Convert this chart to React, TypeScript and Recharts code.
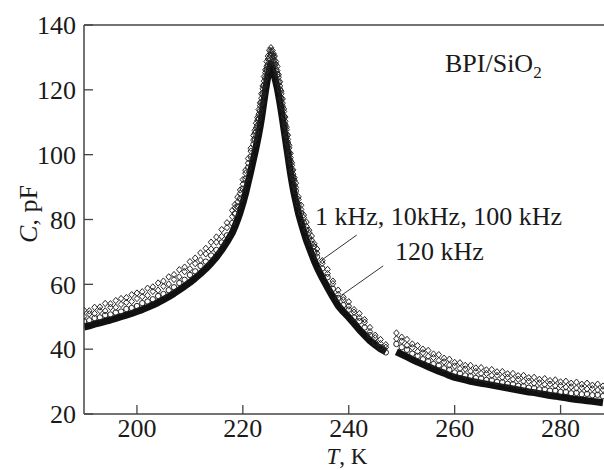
import { ComposedChart, Line, Scatter, XAxis, YAxis, ReferenceLine } from 'recharts'

// temperature, K (248 K is the gap in the measurement)
const T = [
  190, 191, 192, 193, 194, 195, 196, 197, 198, 199, 200, 201, 202, 203, 204, 205, 206, 207, 208, 209,
  210, 211, 212, 213, 214, 215, 216, 217, 218,
  218.5, 219, 219.5, 220, 220.5, 221, 221.5,
  222, 222.25, 222.5, 222.75, 223, 223.25, 223.5, 223.75, 224, 224.25, 224.5, 224.75, 225,
  225.3, 225.6, 225.8,
  226, 226.25, 226.5, 226.75, 227, 227.25, 227.5, 227.75, 228, 228.25, 228.5, 228.75,
  229, 229.25, 229.5, 229.75, 230,
  230.5, 231, 231.5, 232, 232.5, 233, 233.5, 234,
  235, 236, 237, 238, 239, 240, 241, 242, 243, 244, 245, 246, 247,
  248,
  249, 250, 251, 252, 253, 254, 255, 256, 257, 258, 259, 260, 261, 262, 263, 264, 265, 266, 267, 268,
  269, 270, 271, 272, 273, 274, 275, 276, 277, 278, 279, 280, 281, 282, 283, 284, 285, 286, 287, 288,
]

// capacitance, pF
const C_1K = [
  52.0, 51.8, 52.9, 53.0, 54.1, 54.0, 55.0, 55.6, 55.9, 56.8, 57.3, 57.7, 58.8, 59.2, 60.4, 61.0, 62.3, 63.0, 64.5, 65.3,
  67.0, 68.1, 69.7, 71.1, 73.0, 74.6, 76.9, 79.0, 82.8,
  84.6, 86.9, 89.1, 92.3, 95.2, 98.8, 102.0,
  105.9, 107.5, 109.7, 111.5, 113.9, 116.0, 118.8, 121.2, 124.1, 126.2, 128.7, 130.4, 132.2,
  133.0, 132.1, 131.1,
  130.4, 128.7, 127.2, 124.7, 122.5, 119.6, 117.2, 114.1, 111.6, 108.5, 106.0, 102.9,
  100.4, 97.5, 95.3, 92.9, 91.2,
  87.0, 84.4, 81.4, 79.2, 76.7, 74.9, 72.5, 70.9,
  67.3, 64.6, 61.0, 58.2, 56.0, 54.6, 52.2, 51.0, 49.1, 46.7, 44.3, 43.0, 41.4,
  null,
  45.0, 43.7, 43.0, 41.6, 41.1, 40.0, 39.6, 38.5, 38.3, 37.2, 36.9, 35.9, 35.8, 35.0, 35.0, 34.2, 34.3, 33.6, 33.7, 33.0,
  33.1, 32.4, 32.5, 31.8, 31.9, 31.2, 31.3, 30.7, 30.9, 30.3, 30.5, 29.9, 30.1, 29.5, 29.8, 29.2, 29.5, 28.9, 29.2, 28.6,
]

const C_10K = [
  50.1, 50.9, 51.0, 51.9, 51.8, 52.9, 52.9, 53.8, 54.4, 54.7, 55.6, 56.2, 56.6, 57.8, 58.2, 59.4, 60.1, 61.5, 62.3, 63.9,
  64.8, 66.4, 67.5, 69.4, 70.9, 73.0, 74.8, 77.5, 80.9,
  83.6, 85.4, 88.1, 90.9, 94.3, 97.4, 101.1,
  104.5, 106.6, 108.3, 110.6, 112.5, 115.1, 117.4, 120.3, 122.7, 125.3, 127.3, 129.5, 130.9,
  132.1, 130.9, 130.3,
  129.1, 127.9, 125.9, 123.9, 121.2, 118.8, 115.9, 113.3, 110.3, 107.7, 104.7, 102.1,
  99.1, 96.7, 94.0, 92.1, 89.9,
  86.2, 83.1, 80.6, 77.9, 75.9, 73.6, 71.7, 69.6,
  66.5, 63.3, 60.2, 56.9, 55.2, 53.3, 51.4, 49.7, 48.3, 45.4, 43.5, 41.7, 40.6,
  null,
  43.2, 42.5, 41.2, 40.5, 39.3, 38.9, 37.8, 37.4, 36.5, 36.1, 35.1, 34.8, 34.0, 33.9, 33.2, 33.1, 32.5, 32.5, 31.9, 31.9,
  31.3, 31.3, 30.7, 30.7, 30.1, 30.1, 29.5, 29.6, 29.1, 29.2, 28.7, 28.8, 28.3, 28.4, 28.0, 28.1, 27.7, 27.8, 27.4, 27.5,
]

const C_100K = [
  48.6, 48.9, 49.6, 49.8, 50.5, 50.7, 51.3, 51.6, 52.4, 52.7, 53.3, 54.2, 54.7, 55.4, 56.4, 57.0, 58.2, 59.1, 60.4, 61.4,
  62.9, 64.0, 65.7, 67.0, 68.9, 70.6, 72.9, 75.1, 78.9,
  81.8, 84.0, 86.4, 89.5, 92.5, 96.0, 99.4,
  103.2, 104.9, 107.0, 108.9, 111.1, 113.4, 116.1, 118.6, 121.4, 123.6, 126.1, 127.8, 129.7,
  130.6, 129.8, 128.7,
  128.0, 126.3, 124.8, 122.3, 120.1, 117.2, 114.8, 111.7, 109.2, 106.1, 103.6, 100.5,
  98.0, 95.1, 92.9, 90.5, 88.8,
  84.6, 82.0, 79.0, 76.8, 74.3, 72.5, 70.1, 68.5,
  64.9, 62.2, 58.6, 55.8, 53.6, 52.2, 49.8, 48.6, 46.7, 44.3, 41.9, 40.6, 39.0,
  null,
  41.6, 40.6, 39.8, 38.6, 37.9, 36.9, 36.3, 35.4, 35.0, 34.1, 33.6, 32.8, 32.5, 31.9, 31.7, 31.1, 31.0, 30.5, 30.4, 29.9,
  29.8, 29.3, 29.2, 28.7, 28.6, 28.1, 28.0, 27.6, 27.6, 27.2, 27.2, 26.8, 26.8, 26.4, 26.5, 26.1, 26.2, 25.8, 25.9, 25.5,
]

const C_120K = [
  46.8, 47.2, 47.7, 48.1, 48.6, 49.0, 49.5, 50.0, 50.5, 51.0, 51.6, 52.2, 52.9, 53.6, 54.4, 55.3, 56.2, 57.2, 58.3, 59.4,
  60.6, 61.9, 63.3, 64.8, 66.5, 68.4, 70.6, 73.1, 75.9,
  77.8, 79.9, 82.3, 85.0, 88.0, 91.4, 94.9,
  98.6, 100.4, 102.3, 104.3, 106.3, 108.6, 111.0, 113.8, 116.6, 119.4, 122.0, 124.4, 126.4,
  128.0, 126.5, 125.3,
  124.0, 122.3, 120.5, 118.3, 116.0, 113.4, 110.8, 108.0, 105.3, 102.5, 99.8, 97.0,
  94.3, 91.8, 89.5, 87.5, 85.6,
  81.9, 79.0, 76.2, 73.6, 71.4, 69.3, 67.2, 65.3,
  62.0, 59.0, 56.1, 53.4, 51.5, 49.8, 47.9, 46.0, 44.3, 42.6, 41.3, 40.1, 39.2,
  null,
  39.2, 38.4, 37.6, 36.8, 36.0, 35.3, 34.6, 33.9, 33.2, 32.6, 31.9, 31.3, 30.9, 30.5, 30.1, 29.8, 29.5, 29.2, 28.9, 28.6,
  28.3, 28.0, 27.7, 27.4, 27.1, 26.8, 26.6, 26.3, 26.0, 25.7, 25.5, 25.2, 25.0, 24.7, 24.5, 24.3, 24.1, 23.9, 23.7, 23.5,
]

const X_TICKS = [200, 220, 240, 260, 280]
const Y_TICKS = [20, 40, 60, 80, 100, 120, 140]

const FONT = '"Liberation Serif", "Times New Roman", serif'
const AXIS = '#444'
const MARK = '#262626'

const rows = T.map((t, i) => ({ T: t, f1: C_1K[i], f10: C_10K[i], f100: C_100K[i], f120: C_120K[i] }))
const pts = rows.filter(r => r.f1 != null)

const Diamond = (p: any) => (
  <path
    d={`M${p.cx},${p.cy - 3.2}L${p.cx + 2.8},${p.cy}L${p.cx},${p.cy + 3.2}L${p.cx - 2.8},${p.cy}Z`}
    fill="none" stroke={MARK} strokeWidth={1}
  />
)
const Ring = (p: any) => <circle cx={p.cx} cy={p.cy} r={2.7} fill="none" stroke={MARK} strokeWidth={1} />

const tick = { fill: '#1a1a1a', fontSize: 26, fontFamily: FONT }

export default function App() {
  return (
    <div style={{ position: 'absolute', left: 0, top: 0, width: 604, height: 470, background: '#fff' }}>
      <ComposedChart width={604} height={470} data={rows} margin={{ top: 25, right: 0, bottom: 0, left: 0 }}>
        <XAxis
          type="number" dataKey="T" domain={[190, 288.2]} ticks={X_TICKS} allowDataOverflow
          height={56} tickSize={-9} tickMargin={14}
          axisLine={{ stroke: AXIS, strokeWidth: 1.5 }} tickLine={{ stroke: AXIS, strokeWidth: 1.3 }} tick={tick}
        />
        <YAxis
          type="number" domain={[20, 140]} ticks={Y_TICKS} allowDataOverflow
          width={84} tickSize={-9} tickMargin={17}
          axisLine={{ stroke: AXIS, strokeWidth: 1.5 }} tickLine={{ stroke: AXIS, strokeWidth: 1.3 }} tick={tick}
        />
        <ReferenceLine y={140} stroke={AXIS} strokeWidth={1.5} ifOverflow="visible" />
        <Line
          dataKey="f120" name="120 kHz" type="linear" stroke="#111" strokeWidth={7}
          strokeLinejoin="round" dot={false} connectNulls={false} isAnimationActive={false}
        />
        <Scatter data={pts} dataKey="f100" name="100 kHz" shape={Ring} isAnimationActive={false} />
        <Scatter data={pts} dataKey="f10" name="10 kHz" shape={Diamond} isAnimationActive={false} />
        <Scatter data={pts} dataKey="f1" name="1 kHz" shape={Diamond} isAnimationActive={false} />
        <ReferenceLine segment={[{ x: 241.5, y: 75.2 }, { x: 234.9, y: 67.5 }]} stroke="#333" strokeWidth={1} ifOverflow="visible" />
        <ReferenceLine segment={[{ x: 246.5, y: 65.7 }, { x: 238.7, y: 56.7 }]} stroke="#333" strokeWidth={1} ifOverflow="visible" />
      </ComposedChart>
      <svg width={604} height={470} style={{ position: 'absolute', left: 0, top: 0, pointerEvents: 'none' }}>
        <g fontFamily={FONT} fontSize={26} fill="#1a1a1a">
          <text x={445} y={72}>
            BPI/SiO<tspan fontSize={17} dy={6}>2</tspan>
          </text>
          <text x={315} y={225}>1 kHz, 10kHz, 100 kHz</text>
          <text x={395} y={260}>120 kHz</text>
          <text x={347} y={464} textAnchor="middle" fontSize={23}>
            <tspan fontStyle="italic">T</tspan>, K
          </text>
          <text transform="rotate(-90)" x={-214} y={37} textAnchor="middle">
            <tspan fontStyle="italic">C</tspan>, pF
          </text>
        </g>
      </svg>
    </div>
  )
}
